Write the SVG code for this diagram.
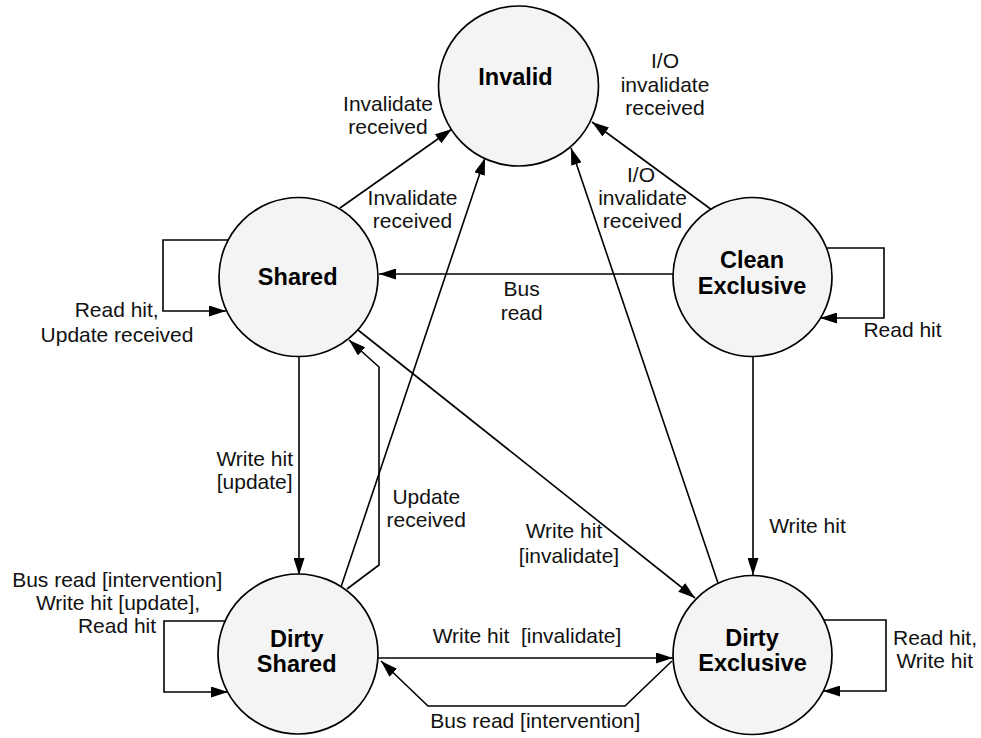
<svg xmlns="http://www.w3.org/2000/svg" width="981" height="738" viewBox="0 0 981 738">
<defs>
<style>
.st circle{fill:#f4f4f4;stroke:#000;stroke-width:1.7}
.st text{font-family:"Liberation Sans",Arial,sans-serif;font-weight:bold;font-size:23.5px;fill:#000;text-anchor:middle}
.lb{font-family:"Liberation Sans",Arial,sans-serif;font-size:21px;fill:#111;text-anchor:middle}
#connectors path{fill:none;stroke:#000;stroke-width:1.6;marker-end:url(#ah)}
</style>
<marker id="ah" markerUnits="userSpaceOnUse" markerWidth="17" markerHeight="11" refX="17" refY="5.5" orient="auto">
<path d="M0,0 L17,5.5 L0,11 z" fill="#000"/>
</marker>
</defs>
<rect width="981" height="738" fill="#fff"/>
<g id="connectors">
<path d="M340,208 L452,129"/>
<path d="M341,587 L485,158"/>
<path d="M718,583 L571,148"/>
<path d="M712,210 L592,122"/>
<path d="M673,274 L379,274"/>
<path d="M228,240 H163 V311 H226"/>
<path d="M827,248 H884 V318 H820"/>
<path d="M299,357 V575"/>
<path d="M347,589 L379,565 V367 L349,340"/>
<path d="M358,330 L695,598"/>
<path d="M753,357 V575"/>
<path d="M824,620 H886 V691 H823"/>
<path d="M227,621 H164 V692 H228"/>
<path d="M378,658 H673"/>
<path d="M672,661 L625,706 H428 L381,661"/>
</g>
<g id="invalid" class="st"><circle cx="518.5" cy="86" r="80"/><text x="515.5" y="85">Invalid</text></g>
<g id="shared" class="st"><circle cx="298.5" cy="277" r="79.5"/><text x="297.7" y="285">Shared</text></g>
<g id="clean-exclusive" class="st"><circle cx="752.5" cy="277" r="79.5"/><text x="752" y="268.3">Clean</text><text x="752" y="294.3">Exclusive</text></g>
<g id="dirty-shared" class="st"><circle cx="298" cy="654" r="80"/><text x="296.7" y="647.3">Dirty</text><text x="296.7" y="672.3">Shared</text></g>
<g id="dirty-exclusive" class="st"><circle cx="752.5" cy="655" r="79.5"/><text x="752" y="646">Dirty</text><text x="752.5" y="671">Exclusive</text></g>
<g id="labels">
<text class="lb" x="388" y="110.7">Invalidate</text>
<text class="lb" x="388" y="134">received</text>
<text class="lb" x="665" y="68.3">I/O</text>
<text class="lb" x="665" y="91.7">invalidate</text>
<text class="lb" x="665" y="115">received</text>
<text class="lb" x="412.5" y="205">Invalidate</text>
<text class="lb" x="412.5" y="228.3">received</text>
<text class="lb" x="641" y="181.5">I/O</text>
<text class="lb" x="642.5" y="205">invalidate</text>
<text class="lb" x="642.5" y="228.3">received</text>
<text class="lb" x="521.7" y="295.7">Bus</text>
<text class="lb" x="521.7" y="320">read</text>
<text class="lb" x="116.7" y="316.7">Read hit,</text>
<text class="lb" x="117" y="341.7">Update received</text>
<text class="lb" x="902.5" y="336.7">Read hit</text>
<text class="lb" x="254.7" y="466">Write hit</text>
<text class="lb" x="254.7" y="489">[update]</text>
<text class="lb" x="426.3" y="504">Update</text>
<text class="lb" x="426.3" y="527.3">received</text>
<text class="lb" x="564" y="538.3">Write hit</text>
<text class="lb" x="569" y="563.3">[invalidate]</text>
<text class="lb" x="807.5" y="533.3">Write hit</text>
<text class="lb" x="117.2" y="587">Bus read [intervention]</text>
<text class="lb" x="118" y="610">Write hit [update],</text>
<text class="lb" x="117" y="633.3">Read hit</text>
<text class="lb" x="527" y="643.3" xml:space="preserve">Write hit  [invalidate]</text>
<text class="lb" x="535.3" y="728.3">Bus read [intervention]</text>
<text class="lb" x="935" y="645">Read hit,</text>
<text class="lb" x="934.7" y="667.7">Write hit</text>
</g>
</svg>
